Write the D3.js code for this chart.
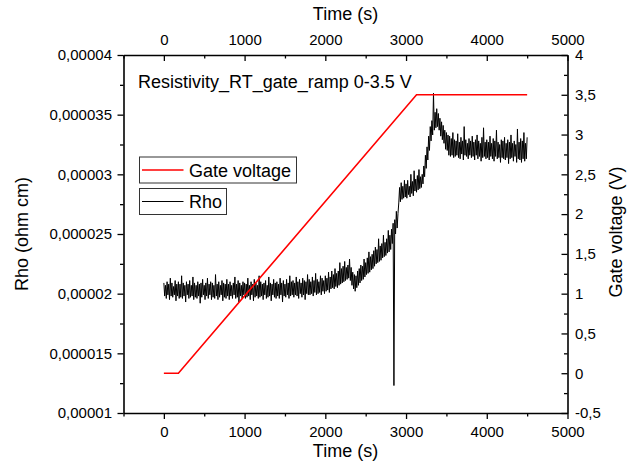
<!DOCTYPE html>
<html>
<head>
<meta charset="utf-8">
<script src="https://cdn.jsdelivr.net/npm/d3@7"></script>
<style>
  body { margin: 0; background: #fff; }
  svg text { font-family: Arial, "Liberation Sans", sans-serif; fill: #000; }
</style>
</head>
<body>
<script>
// gate voltage ramp (s, V)
const gateTime = [0, 180, 3130, 4500];
const gateVolt = [0, 0, 3.5, 3.5];

// Rho, one value every 10 s, in 1e-6 ohm cm
const rhoStart = 0;
const rhoStep = 10;
const rhoVals = [
  20.9,19.8,20.7,19.6,21.0,19.9,20.8,19.5,21.3,19.8,20.9,19.7,20.6,19.9,21.1,19.4,20.8,19.8,21.0,19.6,
  20.8,19.7,21.5,19.6,20.9,19.8,20.7,19.3,21.0,19.9,20.8,19.6,21.1,19.7,20.7,19.8,21.4,19.5,20.9,19.7,
  20.7,19.6,21.0,19.8,20.8,19.2,20.9,19.7,21.2,19.9,20.7,19.5,20.9,19.8,21.3,19.6,20.8,19.9,21.0,19.5,
  20.9,19.7,20.7,19.6,21.6,19.8,20.8,19.5,21.0,19.7,20.7,19.9,21.1,19.4,20.9,19.7,20.8,19.6,21.2,19.8,
  20.8,19.5,21.0,19.8,20.7,19.6,20.9,19.9,21.4,19.6,20.8,19.7,21.1,19.3,20.9,19.8,20.7,19.6,21.0,19.9,
  20.9,19.6,20.8,19.7,21.3,19.8,20.7,19.5,21.0,19.9,20.8,19.4,21.2,19.7,20.9,19.8,20.7,19.6,21.5,19.7,
  21.0,19.8,20.8,19.5,20.9,19.9,21.1,19.6,20.7,19.7,21.4,19.8,20.9,19.4,20.8,19.9,21.2,19.7,20.9,19.6,
  21.0,19.8,20.8,19.6,21.3,19.9,20.9,19.3,21.1,19.8,20.8,19.7,21.2,19.9,20.9,19.6,21.5,19.8,21.0,19.9,
  21.1,19.7,20.9,19.9,21.4,19.8,21.0,19.6,21.2,20.0,20.9,19.7,21.3,19.9,21.1,19.5,21.0,20.0,21.6,19.9,
  21.2,19.9,21.0,20.0,21.4,19.8,21.1,20.1,21.7,19.9,21.2,20.0,21.0,20.1,21.5,19.9,21.3,20.2,21.1,20.0,
  21.5,20.2,21.3,20.3,21.8,20.1,21.4,20.4,21.9,20.5,21.6,20.4,22.1,20.6,21.7,20.5,21.9,20.7,22.6,20.8,
  22.1,20.9,22.3,21.0,22.7,21.1,22.2,21.2,22.4,21.3,22.9,21.1,22.2,20.7,21.8,20.4,21.6,20.2,21.5,20.5,
  21.9,20.7,22.1,20.9,22.4,21.1,22.3,21.2,22.9,21.4,22.6,21.6,23.0,21.7,23.5,21.8,23.1,22.0,23.3,22.1,
  23.6,22.3,23.9,22.5,23.7,22.6,24.6,22.7,24.0,22.8,24.2,23.0,24.9,23.1,24.3,23.2,24.6,23.4,25.3,23.5,
  24.9,23.7,25.4,24.2,25.9,12.3,26.2,25.0,26.9,25.5,26.7,27.6,28.9,27.7,29.3,27.9,29.0,28.0,29.5,28.1,
  29.2,28.0,29.5,28.3,29.0,28.1,30.0,28.4,29.4,28.2,30.3,28.6,29.6,28.5,29.9,28.7,30.4,28.8,29.8,28.9,
  30.0,29.2,30.7,29.8,31.6,30.5,32.3,31.2,33.2,32.0,34.0,32.8,34.5,33.3,36.8,33.7,35.2,33.9,35.5,34.0,
  35.1,33.7,34.7,33.2,34.4,32.9,34.1,32.6,33.7,32.1,33.5,32.0,33.3,31.6,33.2,31.5,33.0,31.6,33.5,31.4,
  32.9,31.5,32.8,31.6,33.4,31.4,32.7,31.3,33.1,31.7,32.8,31.2,34.0,31.6,32.9,31.5,32.6,31.3,33.0,31.6,
  32.8,31.4,33.2,31.5,32.7,31.2,32.9,31.6,33.3,31.3,32.8,31.5,32.6,31.1,33.1,31.4,33.9,31.5,32.7,31.3,
  32.9,31.4,32.7,31.2,33.2,31.5,32.6,31.3,33.0,31.1,32.8,31.5,33.7,31.3,32.7,31.4,32.5,31.0,32.9,31.4,
  32.8,31.3,33.1,31.2,32.6,31.4,32.9,30.9,32.7,31.3,33.3,31.4,32.6,31.1,32.8,31.5,32.5,31.0,33.8,31.3,
  32.7,31.2,33.0,31.0,32.8,31.3,33.5,31.1,32.6,31.3,33.1
];

const xTicks = [0, 1000, 2000, 3000, 4000, 5000];
const xLabels = ["0", "1000", "2000", "3000", "4000", "5000"];
const xMinor = [-500, 500, 1500, 2500, 3500, 4500];
const yLeftTicks = [0.00001, 0.000015, 0.00002, 0.000025, 0.00003, 0.000035, 0.00004];
const yLeftLabels = ["0,00001", "0,000015", "0,00002", "0,000025", "0,00003", "0,000035", "0,00004"];
const yRightTicks = [-0.5, 0, 0.5, 1, 1.5, 2, 2.5, 3, 3.5, 4];
const yRightLabels = ["-0,5", "0", "0,5", "1", "1,5", "2", "2,5", "3", "3,5", "4"];

const width = 627;
const height = 476;

const svg = d3.select("body").append("svg")
    .attr("width", width)
    .attr("height", height);

const x = d3.scaleLinear().domain([-500, 5000]).range([123.5, 567.5]);
const yL = d3.scaleLinear().domain([0.00001, 0.00004]).range([413, 55]);
const yR = d3.scaleLinear().domain([-0.5, 4]).range([413, 55]);

// rho series
const rhoData = rhoVals.map((v, i) => ({t: rhoStart + i * rhoStep, v: v * 1e-6}));

svg.append("path")
    .datum(rhoData)
    .attr("fill", "none")
    .attr("stroke", "#000")
    .attr("stroke-width", 1)
    .attr("d", d3.line().x(d => x(d.t)).y(d => yL(d.v)));

// gate voltage on the right axis
const gateData = gateTime.map((t, i) => ({t: t, v: gateVolt[i]}));
svg.append("path")
    .datum(gateData)
    .attr("fill", "none")
    .attr("stroke", "#ff0000")
    .attr("stroke-width", 1.6)
    .attr("d", d3.line().x(d => x(d.t)).y(d => yR(d.v)));

// axes
function styleAxis(g) {
    g.selectAll(".domain").attr("stroke", "#000").attr("stroke-width", 1.6);
    g.selectAll(".tick line").attr("stroke", "#000").attr("stroke-width", 1.3);
    g.selectAll("text").style("font-size", "15px").attr("font-family", null);
}

svg.append("g").attr("transform", "translate(0,413)")
    .call(d3.axisBottom(x).tickValues(xTicks).tickSize(6).tickSizeOuter(0).tickPadding(7)
        .tickFormat((d, i) => xLabels[i]))
    .call(styleAxis);
svg.append("g").attr("transform", "translate(0,413)")
    .call(d3.axisBottom(x).tickValues(xMinor).tickSize(3.5).tickFormat(""))
    .call(g => g.select(".domain").remove())
    .call(styleAxis);

svg.append("g").attr("transform", "translate(0,55)")
    .call(d3.axisTop(x).tickValues(xTicks).tickSize(-6).tickSizeOuter(0).tickPadding(10.5)
        .tickFormat((d, i) => xLabels[i]))
    .call(styleAxis);
svg.append("g").attr("transform", "translate(0,55)")
    .call(d3.axisTop(x).tickValues(xMinor).tickSize(-3.5).tickFormat(""))
    .call(g => g.select(".domain").remove())
    .call(styleAxis);

const yLeftMinor = d3.range(0, yLeftTicks.length - 1).map(i => (yLeftTicks[i] + yLeftTicks[i + 1]) / 2);
svg.append("g").attr("transform", "translate(123.5,0)")
    .call(d3.axisLeft(yL).tickValues(yLeftTicks).tickSize(6).tickSizeOuter(0).tickPadding(5.5)
        .tickFormat((d, i) => yLeftLabels[i]))
    .call(styleAxis);
svg.append("g").attr("transform", "translate(123.5,0)")
    .call(d3.axisLeft(yL).tickValues(yLeftMinor).tickSize(3.5).tickFormat(""))
    .call(g => g.select(".domain").remove())
    .call(styleAxis);

const yRightMinor = d3.range(0, yRightTicks.length - 1).map(i => (yRightTicks[i] + yRightTicks[i + 1]) / 2);
svg.append("g").attr("transform", "translate(567.5,0)")
    .call(d3.axisRight(yR).tickValues(yRightTicks).tickSize(-6).tickSizeOuter(0).tickPadding(7.5)
        .tickFormat((d, i) => yRightLabels[i]))
    .call(styleAxis);
svg.append("g").attr("transform", "translate(567.5,0)")
    .call(d3.axisRight(yR).tickValues(yRightMinor).tickSize(-3.5).tickFormat(""))
    .call(g => g.select(".domain").remove())
    .call(styleAxis);

// axis titles
svg.append("text").attr("x", 345.5).attr("y", 20).attr("text-anchor", "middle")
    .style("font-size", "18px").text("Time (s)");
svg.append("text").attr("x", 345.5).attr("y", 457).attr("text-anchor", "middle")
    .style("font-size", "18px").text("Time (s)");
svg.append("text").attr("transform", "translate(28,234) rotate(-90)").attr("text-anchor", "middle")
    .style("font-size", "18px").text("Rho (ohm cm)");
svg.append("text").attr("transform", "translate(622,232) rotate(-90)").attr("text-anchor", "middle")
    .style("font-size", "18px").text("Gate voltage (V)");

// plot title
svg.append("text").attr("x", 138).attr("y", 88)
    .style("font-size", "18px").text("Resistivity_RT_gate_ramp 0-3.5 V");

// legend, two separate boxes like the original
const legendItems = [
    {label: "Gate voltage", color: "#ff0000", w: 157, y: 157, sw: 1.6},
    {label: "Rho", color: "#000", w: 87, y: 188.5, sw: 1}
];
const legend = svg.append("g");
legendItems.forEach(d => {
    legend.append("rect")
        .attr("x", 139.5).attr("y", d.y)
        .attr("width", d.w).attr("height", 26)
        .attr("fill", "#fff").attr("stroke", "#333").attr("stroke-width", 1);
    legend.append("line")
        .attr("x1", 142).attr("x2", 183.5)
        .attr("y1", d.y + 13).attr("y2", d.y + 13)
        .attr("stroke", d.color).attr("stroke-width", d.sw);
    legend.append("text")
        .attr("x", 189).attr("y", d.y + 19.5)
        .style("font-size", "18px").text(d.label);
});
</script>
</body>
</html>
